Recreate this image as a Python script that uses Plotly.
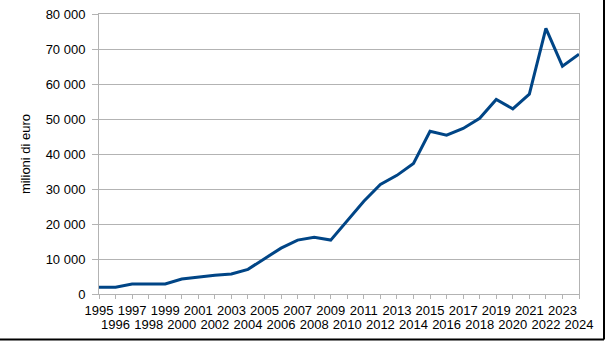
import plotly.graph_objects as go

# Annual values, millions of euro
years = list(range(1995, 2025))
values = [1900, 1950, 2850, 2850, 2850, 4300, 4850, 5350, 5700, 7050,
          10100, 13100, 15400, 16200, 15400, 21000, 26500, 31300, 33900, 37300,
          46500, 45400, 47300, 50200, 55600, 52900, 57100, 75900, 65100, 68500]

y_ticks = [0, 10000, 20000, 30000, 40000, 50000, 60000, 70000, 80000]
y_labels = ["0", "10 000", "20 000", "30 000", "40 000", "50 000", "60 000", "70 000", "80 000"]

# Odd years on the first label row, even years on the second row
even_years = [y for y in years if y % 2 == 0]
x_labels_odd = [str(y) if y % 2 == 1 else "" for y in years]
x_labels_even = [str(y) for y in even_years]

W, H = 606, 341
ml, mr, mt, mb = 99, 27, 14, 47
pw, ph = W - ml - mr, H - mt - mb

fig = go.Figure()
fig.add_trace(go.Scatter(
    x=years, y=values, mode="lines",
    line=dict(color="#004586", width=3),
    hoverinfo="skip", showlegend=False,
))

grid = "#b3b3b3"
fs = 13
fig.update_layout(
    width=W, height=H,
    margin=dict(l=ml, r=mr, t=mt, b=mb, pad=0),
    paper_bgcolor="white", plot_bgcolor="white",
    font=dict(family="Liberation Sans, Arial, sans-serif", size=fs, color="#000000"),
    xaxis=dict(
        range=[years[0], years[-1]],
        tickmode="array", tickvals=years, ticktext=x_labels_odd,
        ticks="outside", ticklen=4, tickcolor=grid, tickwidth=1,
        showgrid=False, zeroline=False,
        showline=True, linecolor=grid, linewidth=1, mirror=True,
        tickangle=0, tickfont=dict(size=fs), automargin=False,
        ticklabelstandoff=0,
    ),
    xaxis2=dict(
        overlaying="x", matches="x", side="bottom", anchor="y",
        range=[years[0], years[-1]],
        tickmode="array", tickvals=even_years, ticktext=x_labels_even,
        ticks="", showgrid=False, zeroline=False, showline=False,
        tickangle=0, tickfont=dict(size=fs), automargin=False,
        ticklabelstandoff=21,
    ),
    yaxis=dict(
        range=[0, 80000],
        tickmode="array", tickvals=y_ticks, ticktext=y_labels,
        ticks="outside", ticklen=6, tickcolor=grid, tickwidth=1,
        showgrid=True, gridcolor=grid, gridwidth=1, zeroline=False,
        showline=True, linecolor=grid, linewidth=1, mirror=True,
        ticklabelstandoff=4, automargin=False,
        title=dict(text="milioni di euro", font=dict(size=fs), standoff=12),
    ),
    shapes=[
        # dark frame along the right and bottom edges of the image
        dict(type="line", xref="paper", yref="paper",
             x0=-ml / pw, x1=(W - 2 - ml) / pw,
             y0=-(H - 1.5 - mt - ph) / ph, y1=-(H - 1.5 - mt - ph) / ph,
             line=dict(color="#000000", width=2)),
        dict(type="line", xref="paper", yref="paper",
             x0=(W - 2 - ml) / pw, x1=(W - 2 - ml) / pw,
             y0=-(H - 1.5 - mt - ph) / ph, y1=(ph + mt) / ph,
             line=dict(color="#000000", width=2)),
    ],
)

# invisible companion trace so the second label axis is drawn
fig.add_trace(go.Scatter(
    x=[years[0], years[-1]], y=[None, None], xaxis="x2", mode="lines",
    hoverinfo="skip", showlegend=False,
))

fig.write_html("out.html")
